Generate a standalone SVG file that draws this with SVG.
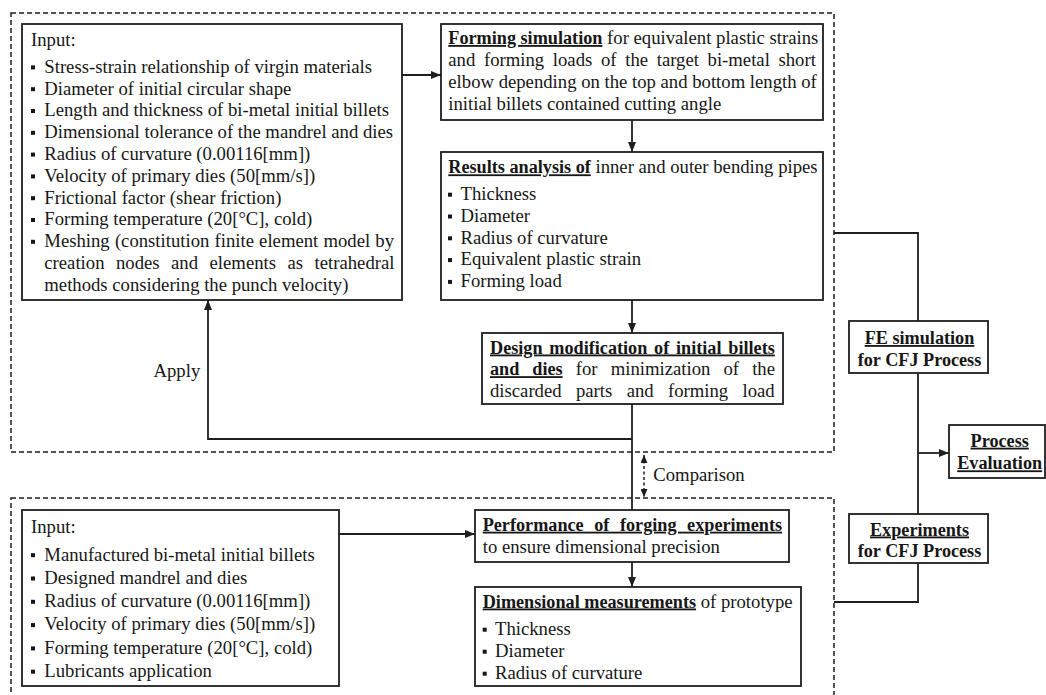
<svg xmlns="http://www.w3.org/2000/svg" xmlns:xlink="http://www.w3.org/1999/xlink" width="1046" height="695" viewBox="0 0 1046 695">
<style>
.box{fill:#fff;stroke:#1e1e1e;stroke-width:1.8}
.dash{fill:none;stroke:#1e1e1e;stroke-width:1.5;stroke-dasharray:5 3}
.ln{fill:none;stroke:#1e1e1e;stroke-width:1.8}
.cmp{fill:none;stroke:#1e1e1e;stroke-width:1.5;stroke-dasharray:3 2.5}
text{font-family:"Liberation Serif","Times New Roman",serif;font-size:18.7px;fill:#161616}
.b{font-weight:bold;font-size:18.2px}
.u{text-decoration:underline}
.c{text-anchor:middle}
.blt{fill:#161616}
</style>
<defs>
<marker id="ah" viewBox="0 0 10 8" refX="10" refY="4" markerWidth="10" markerHeight="8" markerUnits="userSpaceOnUse" orient="auto"><path d="M0,0 L10,4 L0,8 z" fill="#1e1e1e"/></marker>
<marker id="ahs" viewBox="0 0 8 7" refX="8" refY="3.5" markerWidth="8" markerHeight="7" markerUnits="userSpaceOnUse" orient="auto-start-reverse"><path d="M0,0 L8,3.5 L0,7 z" fill="#1e1e1e"/></marker>
<rect id="sq" width="4" height="4" class="blt"/>
</defs>

<g id="groups">
<rect id="fe-region" class="dash" x="11" y="13" width="823" height="439"/>
<rect id="exp-region" class="dash" x="11" y="498" width="823" height="210"/>
</g>

<g id="connectors">
<path class="ln" d="M402,75 H441" marker-end="url(#ah)"/>
<path class="ln" d="M632,120 V152" marker-end="url(#ah)"/>
<path class="ln" d="M632,300 V333" marker-end="url(#ah)"/>
<path class="ln" d="M632,404 V510"/>
<path class="ln" d="M632,439 H208 V300" marker-end="url(#ah)"/>
<path class="ln" d="M339,534 H475" marker-end="url(#ah)"/>
<path class="ln" d="M632,562 V587" marker-end="url(#ah)"/>
<path class="ln" d="M834,233 H918 V321"/>
<path class="ln" d="M918,373 V514"/>
<path class="ln" d="M918,453 H949" marker-end="url(#ah)"/>
<path class="ln" d="M918,563 V602 H834"/>
<path class="cmp" d="M644,455 V497" marker-start="url(#ahs)" marker-end="url(#ahs)"/>
<text x="153.5" y="376.7">Apply</text>
<text x="653.3" y="480.5">Comparison</text>
</g>

<g id="input-sim">
<rect class="box" x="22" y="24" width="380" height="276"/>
<text x="31" y="45.7">Input:</text>
<use xlink:href="#sq" x="31" y="65.4"/>
<use xlink:href="#sq" x="31" y="87.2"/>
<use xlink:href="#sq" x="31" y="109"/>
<use xlink:href="#sq" x="31" y="130.8"/>
<use xlink:href="#sq" x="31" y="152.6"/>
<use xlink:href="#sq" x="31" y="174.4"/>
<use xlink:href="#sq" x="31" y="196.2"/>
<use xlink:href="#sq" x="31" y="218"/>
<use xlink:href="#sq" x="31" y="239.8"/>
<text x="44.3" y="72.7">Stress-strain relationship of virgin materials</text>
<text x="44.3" y="94.5">Diameter of initial circular shape</text>
<text x="44.3" y="116.3">Length and thickness of bi-metal initial billets</text>
<text x="44.3" y="138.1">Dimensional tolerance of the mandrel and dies</text>
<text x="44.3" y="159.9">Radius of curvature (0.00116[mm])</text>
<text x="44.3" y="181.7">Velocity of primary dies (50[mm/s])</text>
<text x="44.3" y="203.5">Frictional factor (shear friction)</text>
<text x="44.3" y="225.3">Forming temperature (20[°C], cold)</text>
<text x="44.3" y="247.1" word-spacing="0.5">Meshing (constitution finite element model by</text>
<text x="44.3" y="268.9" word-spacing="6.83">creation nodes and elements as tetrahedral</text>
<text x="44.3" y="290.7">methods considering the punch velocity)</text>
</g>

<g id="forming-sim">
<rect class="box" x="441" y="24" width="382" height="96"/>
<text x="448.3" y="44"><tspan class="b u">Forming simulation</tspan> for equivalent plastic strains</text>
<text x="448.3" y="66" word-spacing="4">and forming loads of the target bi-metal short</text>
<text x="448.3" y="88">elbow depending on the top and bottom length of</text>
<text x="448.3" y="110">initial billets contained cutting angle</text>
</g>

<g id="results">
<rect class="box" x="441" y="152" width="382" height="148"/>
<text x="448.3" y="173.3"><tspan class="b u">Results analysis of</tspan> inner and outer bending pipes</text>
<use xlink:href="#sq" x="448" y="192.7"/>
<use xlink:href="#sq" x="448" y="214.5"/>
<use xlink:href="#sq" x="448" y="236.3"/>
<use xlink:href="#sq" x="448" y="258.1"/>
<use xlink:href="#sq" x="448" y="279.9"/>
<text x="460.5" y="200">Thickness</text>
<text x="460.5" y="221.8">Diameter</text>
<text x="460.5" y="243.6">Radius of curvature</text>
<text x="460.5" y="265.4">Equivalent plastic strain</text>
<text x="460.5" y="287.2">Forming load</text>
</g>

<g id="design-mod">
<rect class="box" x="482" y="333" width="301" height="71"/>
<text x="490" y="353.5" class="b u" word-spacing="2.23">Design modification of initial billets</text>
<text x="490" y="375.2" word-spacing="8.45"><tspan class="b u">and dies</tspan> for minimization of the</text>
<text x="490" y="397" word-spacing="9.68">discarded parts and forming load</text>
</g>

<g id="input-exp">
<rect class="box" x="22" y="510" width="317" height="176"/>
<text x="31" y="533">Input:</text>
<use xlink:href="#sq" x="31" y="553.2"/>
<use xlink:href="#sq" x="31" y="576.5"/>
<use xlink:href="#sq" x="31" y="599.8"/>
<use xlink:href="#sq" x="31" y="623.1"/>
<use xlink:href="#sq" x="31" y="646.4"/>
<use xlink:href="#sq" x="31" y="669.7"/>
<text x="44.3" y="560.5">Manufactured bi-metal initial billets</text>
<text x="44.3" y="583.8">Designed mandrel and dies</text>
<text x="44.3" y="607.1">Radius of curvature (0.00116[mm])</text>
<text x="44.3" y="630.4">Velocity of primary dies (50[mm/s])</text>
<text x="44.3" y="653.7">Forming temperature (20[°C], cold)</text>
<text x="44.3" y="677">Lubricants application</text>
</g>

<g id="forging-exp">
<rect class="box" x="475" y="510" width="314" height="52"/>
<text x="482.7" y="530.7" class="b u" word-spacing="6.02">Performance of forging experiments</text>
<text x="482.7" y="553.3">to ensure dimensional precision</text>
</g>

<g id="dim-meas">
<rect class="box" x="475" y="587" width="326" height="99"/>
<text x="482.7" y="607.5"><tspan class="b u">Dimensional measurements</tspan> of prototype</text>
<use xlink:href="#sq" x="482.7" y="627.7"/>
<use xlink:href="#sq" x="482.7" y="649.7"/>
<use xlink:href="#sq" x="482.7" y="671.7"/>
<text x="495" y="635">Thickness</text>
<text x="495" y="657">Diameter</text>
<text x="495" y="679">Radius of curvature</text>
</g>

<g id="fe-sim">
<rect class="box" x="849" y="321" width="139" height="52"/>
<text x="919.5" y="344" class="b u c">FE simulation</text>
<text x="919.5" y="365.5" class="b c">for CFJ Process</text>
</g>

<g id="experiments">
<rect class="box" x="849" y="514" width="139" height="49"/>
<text x="919.5" y="535.5" class="b u c">Experiments</text>
<text x="919.5" y="557.3" class="b c">for CFJ Process</text>
</g>

<g id="process-eval">
<rect class="box" x="949" y="425" width="96" height="53"/>
<text x="999.7" y="446.7" class="b u c">Process</text>
<text x="999.7" y="469.3" class="b u c">Evaluation</text>
</g>
</svg>
